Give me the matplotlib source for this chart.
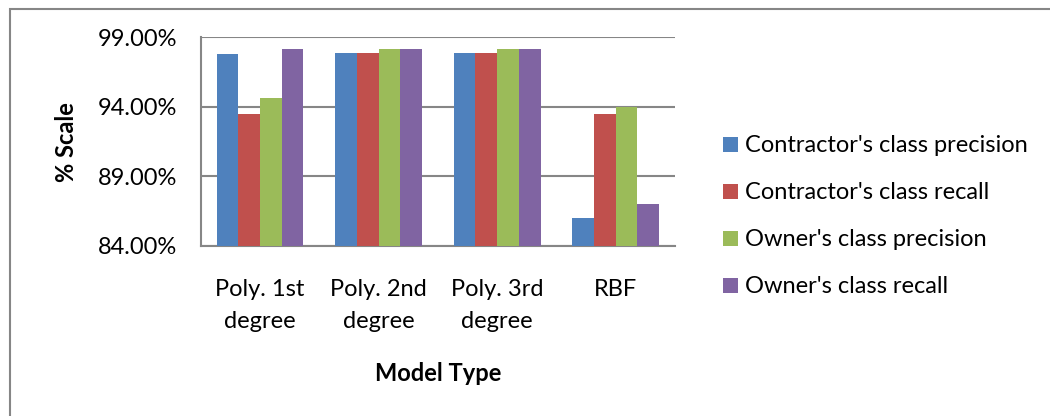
import numpy as np
import matplotlib.pyplot as plt
from matplotlib.patches import Rectangle

plt.rcParams['font.family'] = ['Lato', 'DejaVu Sans']

models = ["Poly. 1st\ndegree", "Poly. 2nd\ndegree", "Poly. 3rd\ndegree", "RBF"]
series_names = ["Contractor's class precision", "Contractor's class recall",
                "Owner's class precision", "Owner's class recall"]
contractor_precision = [97.77, 97.85, 97.85, 86.00]
contractor_recall = [93.47, 97.85, 97.85, 93.47]
owner_precision = [94.65, 98.16, 98.16, 94.00]
owner_recall = [98.16, 98.16, 98.16, 87.05]
y_ticks = [84, 89, 94, 99]

colors = ['#4f81bd', '#c0504d', '#9bbb59', '#8064a2']
series = [contractor_precision, contractor_recall, owner_precision, owner_recall]

fig = plt.figure(figsize=(10.5, 4.16), dpi=100)
ax = fig.add_axes([200.7 / 1050, 1 - 246 / 416, (675 - 200.7) / 1050, (246 - 37.3) / 416])

x = np.arange(len(models))
w = 0.183
for i, (vals, name, c) in enumerate(zip(series, series_names, colors)):
    ax.bar(x + (i - 1.5) * w, np.array(vals) - 84, w, bottom=84, color=c,
           label=name, zorder=3)

ax.set_xlim(-0.5, len(models) - 0.5)
ax.set_ylim(84, 99)
ax.set_yticks(y_ticks)
ax.set_yticklabels(["%.2f%%" % v for v in y_ticks])
ax.set_xticks(x)
ax.set_xticklabels(models, linespacing=1.6, va='top')
ax.tick_params(axis='both', length=0, labelsize=17, colors='black')
ax.tick_params(axis='x', pad=24)
ax.tick_params(axis='y', pad=17)
ax.yaxis.grid(True, color='#868686', linewidth=1.5, zorder=0)

for s in ['top', 'right']:
    ax.spines[s].set_visible(False)
for s in ['left', 'bottom']:
    ax.spines[s].set_color('#868686')
    ax.spines[s].set_linewidth(1.5)

ax.set_xlabel("Model Type", fontsize=17, fontweight='bold', labelpad=22)
ax.set_ylabel("% Scale", fontsize=17, fontweight='bold', labelpad=14)

leg = fig.legend(loc='upper left', bbox_to_anchor=(714 / 1050, 1 - 126 / 416),
                 frameon=False, fontsize=17, handlelength=0.6, handleheight=0.6,
                 handletextpad=0.3, labelspacing=1.1, borderaxespad=0)

# outer chart border
fig.patches.append(Rectangle((10 / 1050, -0.1), 1.2, 1 - 8.5 / 416 + 0.1,
                             transform=fig.transFigure, fill=False,
                             edgecolor='#868686', linewidth=1.5))

fig.savefig("out.png", dpi=100)
